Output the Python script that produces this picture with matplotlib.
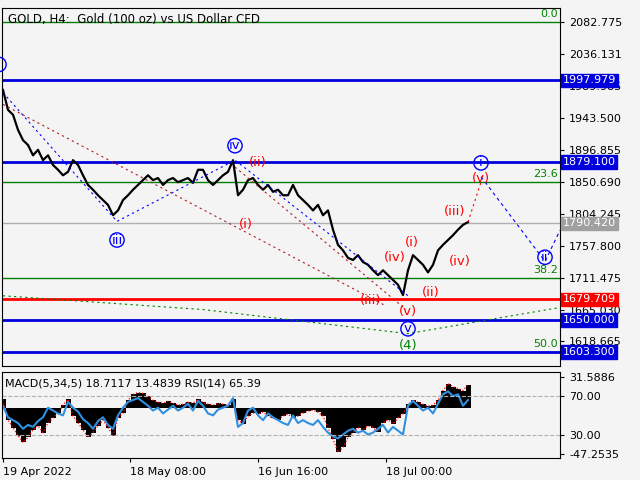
import matplotlib
matplotlib.use("Agg")
import matplotlib.pyplot as plt
import numpy as np

price = [1984,1955,1948,1926,1911,1904,1889,1897,1882,1889,1875,1868,1860,1865,1882,1875,1860,1846,1839,1831,
         1824,1817,1802,1809,1824,1831,1839,1846,1853,1860,1853,1856,1846,1853,1856,1850,1853,1856,1849,1868,
         1868,1853,1846,1853,1860,1865,1882,1831,1839,1853,1856,1846,1839,1846,1836,1839,1831,1831,1846,1831,
         1824,1817,1809,1817,1802,1809,1781,1759,1751,1740,1737,1744,1734,1730,1722,1715,1722,1715,1708,1701,
         1686,1722,1744,1737,1730,1719,1730,1751,1759,1766,1773,1781,1788,1792]
macd = [9,-12,-20,-28,-35,-30,-22,-18,-25,-15,-10,-5,3,9,-8,-15,-22,-30,-25,-18,
        -12,-20,-28,-10,-5,8,14,16,15,12,8,6,5,7,5,3,4,6,5,9,
        6,4,3,5,4,3,9,-12,-16,-8,-5,-6,-4,-8,-10,-12,-8,-6,-10,-8,
        -5,-3,-2,-4,-8,-20,-32,-45,-40,-30,-25,-20,-22,-18,-20,-24,-15,-12,-16,-10,
        -6,4,8,6,4,2,3,8,18,25,22,20,18,24]
rsi = [60,48,45,42,36,40,38,44,48,58,55,52,50,64,58,54,46,42,36,44,
       48,40,36,50,58,64,66,68,64,60,55,58,52,56,60,55,58,62,55,65,
       60,52,50,56,58,60,68,38,42,55,58,50,45,52,48,45,42,40,50,42,
       45,42,40,45,38,32,28,26,30,34,36,32,34,30,32,36,40,32,38,34,
       30,60,65,60,55,58,52,62,72,75,70,72,60,66]
date_labels = ["19 Apr 2022", "18 May 08:00", "16 Jun 16:00", "18 Jul 00:00"]
date_pos = [0, 25.4, 51, 76.6]
price_ticks = [2082.775, 2036.131, 1989.985, 1943.500, 1896.855, 1850.690, 1804.245, 1757.800, 1711.475, 1665.030, 1618.665]
blue_levels = [1997.979, 1879.100, 1650.000, 1603.300]
red_level = 1679.709
cur_price = 1790.420
fib_levels = [2082.775, 1850.690, 1711.475, 1603.300]
fib_names = ["0.0", "23.6", "38.2", "50.0"]

bg = "#f4f4f4"
fig = plt.figure(figsize=(6.4, 4.8), dpi=100)
fig.patch.set_facecolor(bg)
ax = fig.add_axes([2/640, 114/480, 558/640, 358/480])
ax2 = fig.add_axes([2/640, 22/480, 558/640, 86/480])
x = np.arange(len(price))
for a in (ax, ax2):
    a.set_facecolor(bg)
    a.set_xlim(-0.2, 111.4)
    a.yaxis.tick_right()
    a.tick_params(axis='both', labelsize=8, length=3)
    for s in a.spines.values():
        s.set_color('black'); s.set_linewidth(0.8)

ax.set_ylim(1583, 2103)
ax.set_yticks(price_ticks)
ax.set_yticklabels([f"{v:.3f}" for v in price_ticks])
ax.set_xticks([])
for lv, nm in zip(fib_levels, fib_names):
    ax.axhline(lv, color='green', lw=1)
    ax.text(111, lv+4, nm, color='green', fontsize=8, ha='right', va='bottom')
ax.axhline(cur_price, color='#b0b0b0', lw=1)
for lv in blue_levels:
    ax.axhline(lv, color='#0000dd', lw=2)
ax.axhline(red_level, color='red', lw=2)
def tag(v, fc):
    ax.text(1.005, v, f"{v:.3f}", transform=ax.get_yaxis_transform(), fontsize=8, color='white',
            va='center', ha='left', zorder=5, bbox=dict(boxstyle='square,pad=0.15', fc=fc, ec=fc))
for lv in blue_levels: tag(lv, '#0000dd')
tag(red_level, 'red'); tag(cur_price, '#a0a0a0')

ax.plot(x, price, color='black', lw=1.6)
ax.plot([0, 22.8, 46.4, 81], [1980, 1793, 1882, 1685], color='blue', ls=(0, (2, 3)), lw=0.8)
ax.plot([0, 76.4], [1963, 1671], color='#b02020', ls=(0, (2, 3)), lw=0.8)
ax.plot([46.4, 80.6], [1872, 1665], color='#b02020', ls=(0, (2, 3)), lw=0.8)
ax.plot([93, 95.6], [1792, 1850], color='red', ls=(0, (2, 3)), lw=0.8)
ax.plot([95.6, 108.4, 111.4], [1858, 1735, 1780], color='blue', ls=(0, (3, 3)), lw=0.8)
ax.plot([0, 40, 81, 111.4], [1685, 1665, 1630, 1668], color='green', ls=(0, (2, 3)), lw=0.8)

def circ(xi, p, t):
    ax.text(xi, p, t, color='blue', fontsize=9.5, ha='center', va='center',
            bbox=dict(boxstyle='circle,pad=0.05', fc='none', ec='blue', lw=1))
def red(xi, p, t, c='red'):
    ax.text(xi, p, t, color=c, fontsize=9.5, ha='center', va='center')
circ(22.8, 1766, 'iii'); circ(46.4, 1903, 'iv'); circ(81, 1637, 'v'); circ(95.6, 1878, 'i'); circ(108.4, 1741, 'ii')
circ(-0.8, 2021, ')')
red(51, 1879, '(ii)'); red(48.6, 1789, '(i)'); red(73.6, 1678, '(iii)'); red(78.4, 1740, '(iv)')
red(81, 1662, '(v)'); red(81.8, 1763, '(i)'); red(85.6, 1690, '(ii)'); red(90.4, 1808, '(iii)')
red(91.4, 1735, '(iv)'); red(95.6, 1855, '(v)'); red(81, 1613, '(4)', 'green')
ax.text(0.01, 0.985, "GOLD, H4:  Gold (100 oz) vs US Dollar CFD", transform=ax.transAxes, fontsize=8.5, va='top')

ax2.set_ylim(-51, 37)
ax2.bar(x, macd, width=1.0, color='black')
ax2.plot(x, macd, color='red', ls=(0, (1, 1.5)), lw=0.9)
ax2.plot(x, [(r - 30) * (33/40) * 1.19 - 27 for r in rsi], color='#3090e0', lw=1.5)
ax2.axhline(12.3, color='#b0b0b0', ls='--', lw=0.8)
ax2.axhline(-27, color='#b0b0b0', ls='--', lw=0.8)
ax2.set_yticks([31.5886, 12.3, -27, -47.2535])
ax2.set_yticklabels(["31.5886", "70.00", "30.00", "-47.2535"])
ax2.set_xticks(date_pos)
ax2.set_xticklabels(date_labels, ha='left')
ax2.text(0.005, 0.93, "MACD(5,34,5) 18.7117 13.4839 RSI(14) 65.39", transform=ax2.transAxes, fontsize=8, va='top')
fig.savefig("out.png", dpi=100, facecolor=bg)
